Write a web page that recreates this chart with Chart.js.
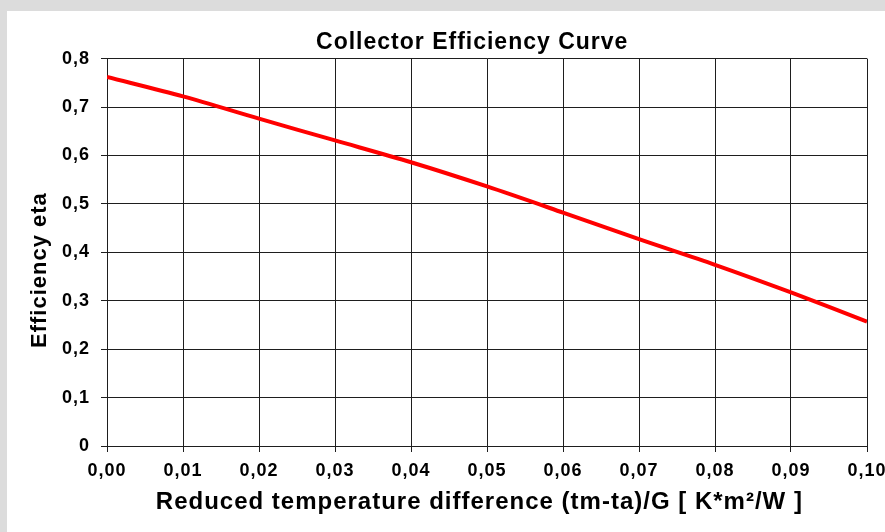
<!DOCTYPE html>
<html>
<head>
<meta charset="utf-8">
<script src="https://cdn.jsdelivr.net/npm/chart.js@4/dist/chart.umd.min.js"></script>
<style>
  html, body { margin: 0; padding: 0; background: #dcdcdc; }
  #wrap { width: 885px; height: 532px; }
</style>
</head>
<body>
<div id="wrap"><canvas id="c" width="885" height="532"></canvas></div>
<script>
// Data
const xValues = [0.00, 0.01, 0.02, 0.03, 0.04, 0.05, 0.06, 0.07, 0.08, 0.09, 0.10];
const efficiency = [0.762, 0.722, 0.676, 0.631, 0.586, 0.536, 0.482, 0.427, 0.374, 0.317, 0.257];
const chartTitle = 'Collector Efficiency Curve';
const xAxisTitle = 'Reduced temperature difference (tm-ta)/G [ K*m\u00B2/W ]';
const yAxisTitle = 'Efficiency eta';

const points = xValues.map((x, i) => ({ x: x, y: efficiency[i] }));

const FONT = "'Liberation Sans', Arial, sans-serif";
const GRID = '#1e1e1e';
const NB = '\u00A0';

const backgroundPlugin = {
  id: 'panelBg',
  beforeUpdate(chart) { chart.ctx.letterSpacing = '1px'; },
  beforeDraw(chart) {
    const ctx = chart.ctx;
    ctx.save();
    ctx.fillStyle = '#dcdcdc';
    ctx.fillRect(0, 0, chart.width, chart.height);
    ctx.fillStyle = '#ffffff';
    ctx.fillRect(7, 11, chart.width - 7, chart.height - 11);
    ctx.restore();
    ctx.letterSpacing = '1px';
  }
};

const fmtX = v => Number(v).toFixed(2).replace('.', ',');
const fmtY = v => (Math.abs(v) < 1e-9 ? '0' : Number(v).toFixed(1).replace('.', ','));

new Chart(document.getElementById('c'), {
  type: 'line',
  data: {
    datasets: [{
      label: 'Efficiency',
      data: points,
      borderColor: '#ff0000',
      backgroundColor: '#ff0000',
      borderWidth: 4,
      pointRadius: 0,
      tension: 0.3,
      fill: false
    }]
  },
  plugins: [backgroundPlugin],
  options: {
    responsive: false,
    animation: false,
    devicePixelRatio: 1,
    layout: { padding: { left: 0, top: 11, right: 18, bottom: 10 } },
    plugins: {
      legend: { display: false },
      tooltip: { enabled: false },
      title: {
        display: true,
        fullSize: false,
        text: chartTitle + NB.repeat(4),
        color: '#000',
        font: { family: FONT, size: 23, weight: 'bold' },
        padding: { top: 18, bottom: 2 }
      }
    },
    scales: {
      x: {
        type: 'linear',
        min: 0,
        max: 0.1,
        afterFit(scale) { scale.height = 76; scale.paddingLeft = 0; scale.paddingRight = 0; },
        ticks: {
          stepSize: 0.01,
          color: '#000',
          padding: 8,
          maxRotation: 0,
          autoSkip: false,
          font: { family: FONT, size: 18, weight: 'bold' },
          callback: v => fmtX(v)
        },
        grid: { color: GRID, lineWidth: 1, tickLength: 6, tickColor: GRID, drawTicks: true },
        border: { color: GRID, width: 1 },
        title: {
          display: true,
          text: xAxisTitle + NB + NB,
          color: '#000',
          font: { family: FONT, size: 24, weight: 'bold' },
          padding: { top: 0, bottom: 5 }
        }
      },
      y: {
        min: 0,
        max: 0.8,
        afterFit(scale) { scale.width = 107; scale.paddingTop = 0; scale.paddingBottom = 0; },
        ticks: {
          stepSize: 0.1,
          color: '#000',
          padding: 11,
          font: { family: FONT, size: 18, weight: 'bold' },
          callback: v => fmtY(v)
        },
        grid: { color: GRID, lineWidth: 1, tickLength: 6, tickColor: GRID, drawTicks: true },
        border: { color: GRID, width: 1 },
        title: {
          display: true,
          text: yAxisTitle + NB.repeat(5),
          color: '#000',
          font: { family: FONT, size: 22, weight: 'bold' },
          padding: { top: 27, bottom: 0 }
        }
      }
    }
  }
});
</script>
</body>
</html>
